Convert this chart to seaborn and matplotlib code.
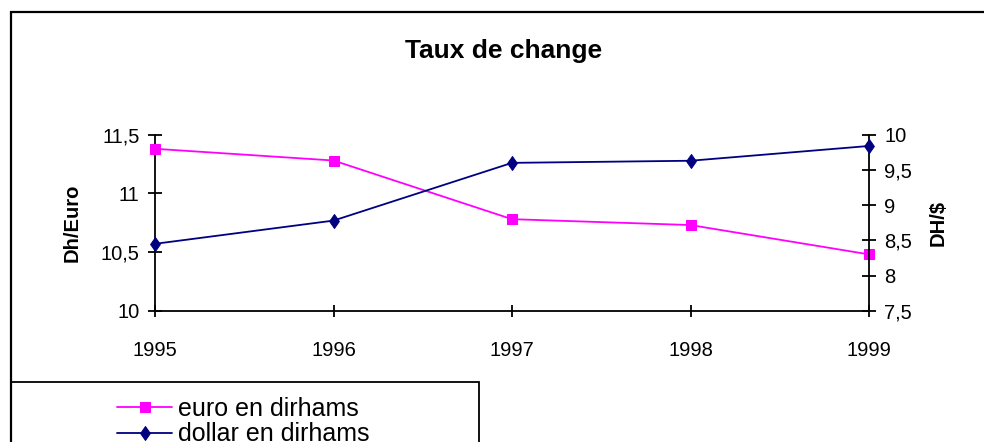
import matplotlib
matplotlib.use("Agg")
import matplotlib.pyplot as plt
import seaborn as sns
import pandas as pd
from matplotlib.patches import Rectangle
from matplotlib.ticker import FixedLocator, FixedFormatter

years = [1995, 1996, 1997, 1998, 1999]
euro_dh = [11.38, 11.28, 10.78, 10.73, 10.48]
dollar_dh = [8.45, 8.78, 9.60, 9.63, 9.84]
left_ticks = [10, 10.5, 11, 11.5]
left_labels = ["10", "10,5", "11", "11,5"]
right_ticks = [7.5, 8, 8.5, 9, 9.5, 10]
right_labels = ["7,5", "8", "8,5", "9", "9,5", "10"]
title = "Taux de change"
euro_name = "euro en dirhams"
dollar_name = "dollar en dirhams"

sns.set_style("white")
plt.rcParams["font.family"] = ["Liberation Sans", "DejaVu Sans"]
plt.rcParams["text.color"] = "black"
plt.rcParams["axes.labelcolor"] = "black"
plt.rcParams["xtick.color"] = "black"
plt.rcParams["ytick.color"] = "black"

fig = plt.figure(figsize=(9.84, 4.42), dpi=100)
ax = fig.add_axes([155/984, 1 - 310.7/442, (869-155)/984, (310.7-134.7)/442])
ax2 = ax.twinx()

df = pd.DataFrame({"year": years, "euro": euro_dh, "dollar": dollar_dh})

diamond = [(0, 1), (0.7, 0), (0, -1), (-0.7, 0), (0, 1)]

sns.lineplot(data=df, x="year", y="euro", ax=ax, color="#FF00FF", marker="s",
             markersize=7.2, markeredgecolor="#FF00FF", markerfacecolor="#FF00FF",
             linewidth=1.3, label=euro_name, legend=False, clip_on=False, zorder=5)
sns.lineplot(data=df, x="year", y="dollar", ax=ax2, color="#000080", marker=diamond,
             markersize=10, markeredgecolor="#000080", markerfacecolor="#000080",
             linewidth=1.3, label=dollar_name, legend=False, clip_on=False, zorder=5)

ax.set_xlim(years[0], years[-1])
ax.set_ylim(left_ticks[0], left_ticks[-1])
ax2.set_ylim(right_ticks[0], right_ticks[-1])

ax.xaxis.set_major_locator(FixedLocator(years))
ax.xaxis.set_major_formatter(FixedFormatter([str(y) for y in years]))
ax.yaxis.set_major_locator(FixedLocator(left_ticks))
ax.yaxis.set_major_formatter(FixedFormatter(left_labels))
ax2.yaxis.set_major_locator(FixedLocator(right_ticks))
ax2.yaxis.set_major_formatter(FixedFormatter(right_labels))

for a in (ax, ax2):
    for s in a.spines.values():
        s.set_visible(False)
        s.set_color("black")
        s.set_linewidth(1.3)
    a.grid(False)
    a.set_facecolor("none")
ax.spines["left"].set_visible(True)
ax.spines["bottom"].set_visible(True)
ax2.spines["right"].set_visible(True)

ax.tick_params(axis="x", direction="inout", length=9, width=1.3, labelsize=14.5, pad=17,
               bottom=True, color="black", labelcolor="black")
ax.tick_params(axis="y", direction="inout", length=10, width=1.3, labelsize=14.5, pad=6,
               left=True, color="black", labelcolor="black")
ax2.tick_params(axis="y", direction="inout", length=10, width=1.3, labelsize=14.5, pad=6,
                right=True, color="black", labelcolor="black")

ax.set_xlabel("")
ax.set_ylabel("Dh/Euro", fontsize=14.5, fontweight="bold", labelpad=14, color="black")
ax2.set_ylabel("DH/$", fontsize=14.5, fontweight="bold", labelpad=12, color="black")

fig.text(504/984, 1 - 51/442, title, ha="center", va="center", fontsize=19,
         fontweight="bold", color="black")

# outer chart border
fig.patches.append(Rectangle((11/984, -0.1), 1.2, 1 - 12/442 + 0.1, transform=fig.transFigure,
                             fill=False, edgecolor="black", linewidth=1.6))
# legend box
fig.patches.append(Rectangle((11/984, -0.1), (479-11)/984, 0.1 + 1 - 382/442,
                             transform=fig.transFigure, fill=False, edgecolor="black", linewidth=1.3))

h1, l1 = ax.get_legend_handles_labels()
h2, l2 = ax2.get_legend_handles_labels()
fig.legend(h1 + h2, l1 + l2, loc="upper left", bbox_to_anchor=(117/984, 1 - 397/442),
           frameon=False, fontsize=18, handlelength=2.2, handletextpad=0.25,
           labelspacing=0.05, borderpad=0, borderaxespad=0, labelcolor="black")

fig.savefig("out.png", dpi=100, facecolor="white")
